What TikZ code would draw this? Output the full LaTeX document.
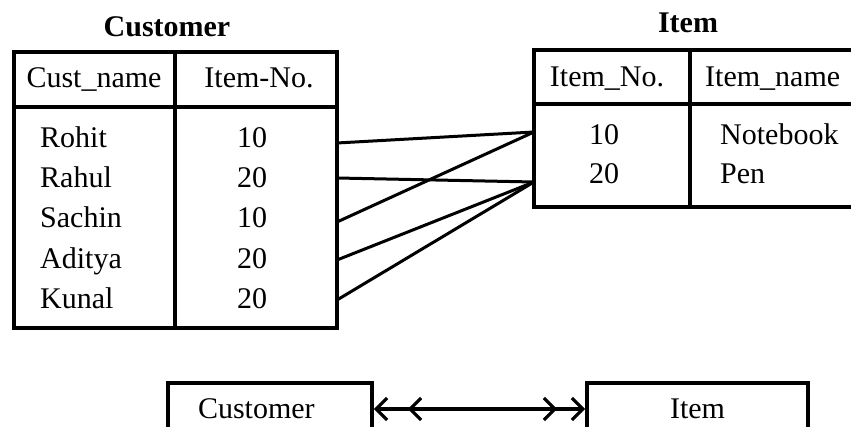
\documentclass[tikz,border=0pt]{standalone}
\usepackage{fontspec}
\setmainfont{Liberation Serif}
\usetikzlibrary{arrows.meta}

\begin{document}
\begin{tikzpicture}[x=1pt, y=-1pt,
    txt/.style={anchor=base, inner sep=0pt, font=\fontsize{30}{36}\selectfont},
    ttl/.style={txt, font=\fontsize{30}{36}\selectfont\bfseries},
    tbl/.style={line width=3.6pt},
    link/.style={line width=3pt, line cap=round},
    barb/.style={line width=3.2pt, {Straight Barb[length=11pt,width=22pt]}-{Straight Barb[length=11pt,width=22pt]}},
    box/.style={draw, line width=3.6pt, minimum height=52pt, inner sep=0pt,
        font=\fontsize{30}{36}\selectfont}]
    \useasboundingbox (0,0) rectangle (851,427);
    \clip (0,0) rectangle (851,427);

    % Customer 表
    \node[ttl] (custtitle) at (167,37) {Customer};
    \draw[tbl] (14,52) rectangle (337,328);
    \draw[tbl] (14,107) -- (337,107);
    \draw[tbl] (175,52) -- (175,328);
    \node[txt] (custname) at (94,88) {Cust\_name};
    \node[txt] (custno) at (259,88) {Item-No.};
    \node[txt, anchor=base west] (n1) at (40,148) {Rohit};
    \node[txt, anchor=base west] (n2) at (40,188) {Rahul};
    \node[txt, anchor=base west] (n3) at (40,228) {Sachin};
    \node[txt, anchor=base west] (n4) at (40,269) {Aditya};
    \node[txt, anchor=base west] (n5) at (40,309) {Kunal};
    \node[txt] (v1) at (252,148) {10};
    \node[txt] (v2) at (252,188) {20};
    \node[txt] (v3) at (252,228) {10};
    \node[txt] (v4) at (252,269) {20};
    \node[txt] (v5) at (252,309) {20};

    % Item 表
    \node[ttl] (itemtitle) at (688,33) {Item};
    \draw[tbl] (534,50) rectangle (860,207);
    \draw[tbl] (534,104) -- (860,104);
    \draw[tbl] (690,50) -- (690,207);
    \node[txt] (itemno) at (607,87) {Item\_No.};
    \node[txt, anchor=base west] (itemname) at (705,87) {Item\_name};
    \node[txt] (k1) at (604,145) {10};
    \node[txt] (k2) at (604,184) {20};
    \node[txt, anchor=base west] (m1) at (720,145) {Notebook};
    \node[txt, anchor=base west] (m2) at (720,184) {Pen};

    % 连线
    \coordinate (rohit) at (337,143);
    \coordinate (rahul) at (337,178);
    \coordinate (sachin) at (337,222);
    \coordinate (aditya) at (337,260);
    \coordinate (kunal) at (337,300);
    \coordinate (no10) at (534,132);
    \coordinate (no20) at (534,182);
    \draw[link] (rohit) -- (no10);
    \draw[link] (rahul) -- (no20);
    \draw[link] (sachin) -- (no10);
    \draw[link] (aditya) -- (no20);
    \draw[link] (kunal) -- (no20);

    % 实体关系
    \node[box, text width=144pt, inner xsep=30pt, align=left] (cust) at (270,409) {Customer};
    \node[box, minimum width=221pt] (item) at (697.5,409) {Item};
    \draw[barb] (cust) -- (item);
    \draw[barb, shorten <=34pt, shorten >=28pt] (cust) -- (item);
\end{tikzpicture}
\end{document}
